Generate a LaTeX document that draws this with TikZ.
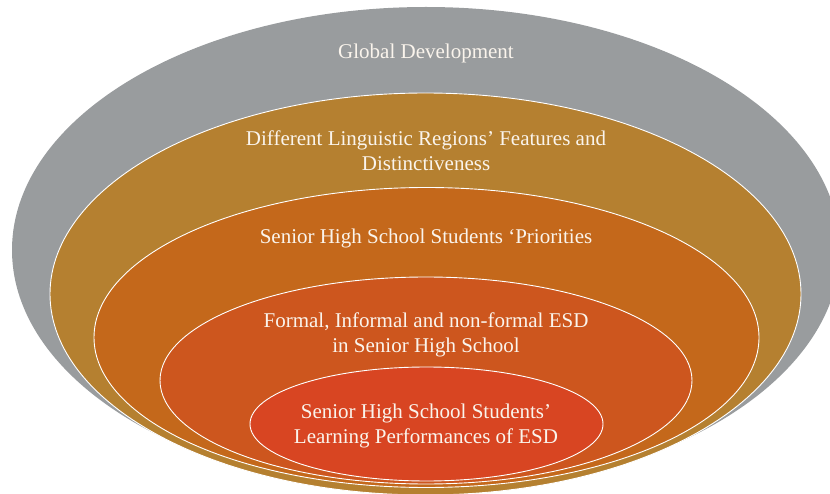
\documentclass[tikz,border=0pt]{standalone}
\usepackage{fontspec}
\setmainfont{Liberation Serif}
\usetikzlibrary{shapes.geometric,positioning}
\definecolor{ringgray}{RGB}{153,156,158}
\definecolor{ringtan}{RGB}{181,128,48}
\definecolor{ringorange}{RGB}{196,104,27}
\definecolor{ringrust}{RGB}{205,86,30}
\definecolor{ringred}{RGB}{216,69,34}
\definecolor{labelwhite}{RGB}{250,244,236}
\tikzset{
		ring/.style={ellipse, draw=white, line width=0.9pt, inner sep=0pt},
		label/.style={text=labelwhite, font=\fontsize{21}{25}\selectfont,
			align=center, inner sep=0pt},
		}

\begin{document}
\begin{tikzpicture}
				[x=1pt, y=-1pt]
				\useasboundingbox (0,0) rectangle (830,494);
				% nested rings, outer to inner
				\node[ring, draw=none, fill=ringgray, minimum width=828pt, minimum height=486pt] (global) at (426,250) {};
				\node[ring, fill=ringtan,    minimum width=751pt, minimum height=402pt] (region) at (425.5,294) {};
				\node[ring, fill=ringorange, minimum width=665pt, minimum height=300pt] (prior)  at (426.5,337.5) {};
				\node[ring, fill=ringrust,   minimum width=532pt, minimum height=207pt] (formal) at (426,380.5) {};
				\node[ring, fill=ringred,    minimum width=353pt, minimum height=114pt] (learn)  at (426.5,424) {};

				% labels
				\node[label] (globaltxt) at (426,53)  {Global Development};
				\node[label] (regiontxt) at (426,151) {Different Linguistic Regions’ Features and\\Distinctiveness};
				\node[label] (priortxt)  at (426,238) {Senior High School Students ‘Priorities};
				\node[label] (formaltxt) at (426,335) {Formal, Informal and non-formal ESD\\in Senior High School};
				\node[label] (learntxt)  at (426,426) {Senior High School Students’\\Learning Performances of ESD};

			\end{tikzpicture}
\end{document}
